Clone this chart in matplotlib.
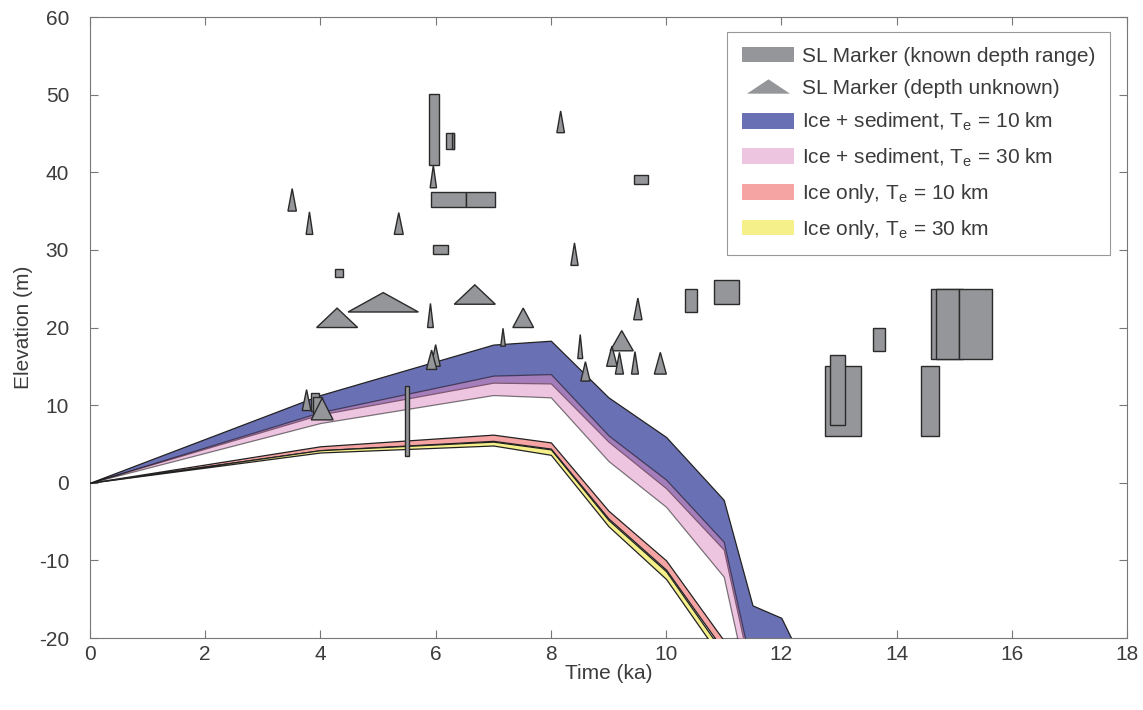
import numpy as np
import matplotlib.pyplot as plt
from matplotlib.patches import Patch
from matplotlib.lines import Line2D

plt.rcParams['font.family'] = ['Liberation Sans', 'DejaVu Sans']
plt.rcParams['mathtext.fontset'] = 'custom'
plt.rcParams['mathtext.rm'] = 'Liberation Sans'
plt.rcParams['axes.unicode_minus'] = False

# Tiempos de los modelos (ka)
t_mod = [0, 4, 7, 8, 9, 10, 11, 11.5, 12, 12.5]

# Bandas de modelo (limite superior / inferior, m)
sed10_hi = [0, 11.3, 17.8, 18.3, 11.0, 5.9, -2.2, -15.8, -17.4, -25.0]
sed10_lo = [0, 8.8, 12.9, 12.8, 5.3, -0.7, -8.6, -25.5, -35.0, -40.0]
sed30_hi = [0, 9.1, 13.8, 14.0, 6.1, 0.4, -7.6, -24.4, -35.0, -40.0]
sed30_lo = [0, 7.7, 11.3, 11.0, 2.8, -3.1, -12.1, -29.0, -38.0, -42.0]
ice10_hi = [0, 4.7, 6.2, 5.2, -3.6, -10.0, -20.3, -30.0, -36.0, -42.0]
ice10_lo = [0, 4.2, 5.4, 4.4, -4.6, -11.2, -21.6, -32.0, -38.0, -44.0]
ice30_hi = [0, 4.2, 5.3, 4.3, -4.8, -11.4, -22.0, -32.0, -38.0, -44.0]
ice30_lo = [0, 3.9, 4.8, 3.6, -5.6, -12.4, -23.0, -34.0, -40.0, -46.0]

# Marcadores de nivel del mar con rango de profundidad conocido
rect_x0 = [5.885, 6.175, 6.28, 5.92, 6.53, 5.96, 4.26, 9.45, 10.33, 10.84,
           13.59, 12.75, 12.85, 14.42, 14.60, 14.69, 15.08, 5.47, 3.83, 3.87]
rect_x1 = [6.06, 6.325, 6.325, 6.53, 7.03, 6.21, 4.40, 9.68, 10.54, 11.26,
           13.80, 13.38, 13.11, 14.73, 15.15, 15.08, 15.65, 5.54, 3.98, 4.02]
rect_y0 = [41.0, 43.0, 43.0, 35.5, 35.5, 29.5, 26.5, 38.5, 22.0, 23.0,
           17.0, 6.0, 7.5, 6.0, 16.0, 16.0, 16.0, 3.5, 9.3, 9.0]
rect_y1 = [50.1, 45.1, 45.1, 37.5, 37.5, 30.6, 27.5, 39.6, 25.0, 26.1,
           20.0, 15.0, 16.5, 15.0, 25.0, 25.0, 25.0, 12.5, 11.6, 11.0]

# Marcadores sin profundidad conocida (triangulos)
tri_x = [3.51, 3.81, 5.36, 5.96, 8.17, 8.41, 5.09, 4.29, 6.68, 7.52, 5.91,
         7.17, 6.00, 5.93, 3.76, 4.03, 8.51, 8.60, 9.51, 9.23, 9.06, 9.19,
         9.46, 9.90]
tri_hw = [0.073, 0.058, 0.078, 0.055, 0.066, 0.063, 0.61, 0.356, 0.356, 0.18,
          0.05, 0.04, 0.08, 0.09, 0.075, 0.19, 0.043, 0.08, 0.072, 0.2,
          0.092, 0.07, 0.06, 0.104]
tri_base = [35.0, 32.0, 32.0, 38.0, 45.1, 28.0, 22.0, 20.0, 23.0, 20.0, 20.0,
            17.6, 15.0, 14.6, 9.3, 8.1, 16.0, 13.1, 21.0, 17.0, 15.0, 14.0,
            14.0, 14.0]
tri_top = [37.9, 34.9, 34.8, 40.9, 47.9, 30.9, 24.5, 22.5, 25.5, 22.5, 23.1,
           19.9, 17.8, 17.1, 12.0, 10.9, 19.1, 15.6, 23.8, 19.6, 17.6, 16.8,
           16.9, 16.8]

c_blue = '#6a70b4'
c_pink = '#dc8cc3'
c_red = '#f5a3a3'
c_yel = '#f5f08a'
c_gray = '#959699'
c_text = '#3c3c3c'

fig = plt.figure(figsize=(11.43, 7.10), dpi=100)
ax = fig.add_axes([0.0787, 0.1014, 0.9073, 0.8746])

ax.fill_between(t_mod, sed10_lo, sed10_hi, facecolor=c_blue, edgecolor='#222222', lw=0.9, zorder=2)
ax.fill_between(t_mod, sed30_lo, sed30_hi, facecolor=c_pink, edgecolor='black', lw=0.9, alpha=0.5, zorder=3)
ax.fill_between(t_mod, ice10_lo, ice10_hi, facecolor=c_red, edgecolor='#222222', lw=0.9, zorder=4)
ax.fill_between(t_mod, ice30_lo, ice30_hi, facecolor=c_yel, edgecolor='#222222', lw=0.9, zorder=5)

for x0, x1, y0, y1 in zip(rect_x0, rect_x1, rect_y0, rect_y1):
    ax.fill([x0, x1, x1, x0], [y0, y0, y1, y1], facecolor=c_gray,
            edgecolor='#2a2a2a', lw=1.0, zorder=6)

for x, hw, b, top in zip(tri_x, tri_hw, tri_base, tri_top):
    ax.fill([x - hw, x + hw, x], [b, b, top], facecolor=c_gray,
            edgecolor='#2a2a2a', lw=1.0, zorder=7)

ax.set_xlim(0, 18)
ax.set_ylim(-20, 60)
ax.set_xticks(np.arange(0, 19, 2))
ax.set_yticks(np.arange(-20, 61, 10))
ax.tick_params(direction='in', length=6, width=0.8, top=True, right=True,
               colors='#777777', labelcolor=c_text, labelsize=15, pad=5)
ax.tick_params(axis='y', pad=15)
for s in ax.spines.values():
    s.set_color('#777777')
    s.set_linewidth(0.8)
ax.set_xlabel('Time (ka)', fontsize=15, color=c_text, labelpad=0)
ax.set_ylabel('Elevation (m)', fontsize=15, color=c_text, labelpad=4)

handles = [
    Patch(facecolor=c_gray, edgecolor='none'),
    Line2D([], [], ls='none', marker=[(-1.5, -0.5), (1.5, -0.5), (0, 0.5)],
           markersize=31, markerfacecolor=c_gray, markeredgecolor='none'),
    Patch(facecolor=c_blue, edgecolor='none'),
    Patch(facecolor=c_pink, edgecolor='none', alpha=0.5),
    Patch(facecolor=c_red, edgecolor='none'),
    Patch(facecolor=c_yel, edgecolor='none'),
]
labels = [
    'SL Marker (known depth range)',
    'SL Marker (depth unknown)',
    r'Ice + sediment, T$_\mathregular{e}$ = 10 km',
    r'Ice + sediment, T$_\mathregular{e}$ = 30 km',
    r'Ice only, T$_\mathregular{e}$ = 10 km',
    r'Ice only, T$_\mathregular{e}$ = 30 km',
]
leg = ax.legend(handles, labels, loc='upper right', bbox_to_anchor=(0.984, 0.976),
                fontsize=15, frameon=True, fancybox=False, framealpha=1,
                edgecolor='#999999', handlelength=2.5, handleheight=0.8,
                handletextpad=0.4, labelspacing=0.62, borderpad=0.7,
                borderaxespad=0)
leg.get_frame().set_linewidth(0.8)
for t in leg.get_texts():
    t.set_color(c_text)

fig.savefig('out.png', dpi=100)
